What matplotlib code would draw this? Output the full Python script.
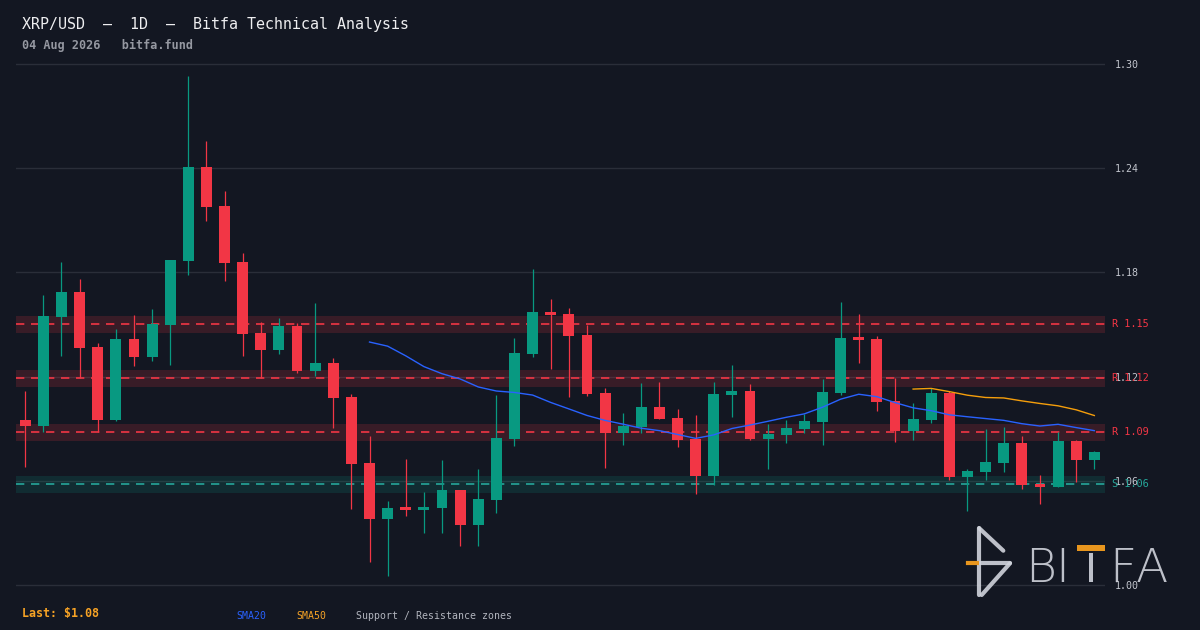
import numpy as np
import pandas as pd
import matplotlib
matplotlib.use("Agg")
from matplotlib import pyplot as plt
from matplotlib.lines import Line2D
from matplotlib.patches import Rectangle

# daily candles
opens = [1.0950, 1.0917, 1.1543, 1.1687, 1.1370, 1.0950, 1.1417, 1.1315, 1.1499, 1.1867,
         1.2407, 1.2182, 1.1860, 1.1451, 1.1355, 1.1491, 1.1234, 1.1278, 1.1083, 1.0703,
         1.0382, 1.0443, 1.0434, 1.0443, 1.0547, 1.0347, 1.0491, 1.0843, 1.1332, 1.1572,
         1.1560, 1.1439, 1.1106, 1.0877, 1.0912, 1.1025, 1.0962, 1.0841, 1.0629, 1.1096,
         1.1117, 1.0843, 1.0866, 1.0900, 1.0941, 1.1107, 1.1422, 1.1416, 1.1060, 1.0889,
         1.0952, 1.1106, 1.0624, 1.0653, 1.0704, 1.0818, 1.0582, 1.0565, 1.0829, 1.0720]
highs = [1.1117, 1.1670, 1.1860, 1.1762, 1.1394, 1.1474, 1.1555, 1.1589, 1.1871, 1.2931,
         1.2557, 1.2269, 1.1912, 1.1514, 1.1537, 1.1509, 1.1624, 1.1307, 1.1100, 1.0858,
         1.0484, 1.0726, 1.0536, 1.0720, 1.0547, 1.0668, 1.1094, 1.1422, 1.1820, 1.1647,
         1.1595, 1.1497, 1.1134, 1.0990, 1.1163, 1.1169, 1.1013, 1.0979, 1.1169, 1.1267,
         1.1157, 1.0927, 1.0950, 1.0985, 1.1185, 1.1630, 1.1560, 1.1433, 1.1192, 1.1048,
         1.1133, 1.1117, 1.0670, 1.0897, 1.0910, 1.0858, 1.0634, 1.0881, 1.0835, 1.0772]
lows = [1.0680, 1.0881, 1.1320, 1.1192, 1.0883, 1.0944, 1.1263, 1.1292, 1.1269, 1.1787,
        1.2098, 1.1752, 1.1320, 1.1192, 1.1332, 1.1222, 1.1205, 1.0906, 1.0439, 1.0134,
        1.0054, 1.0399, 1.0301, 1.0301, 1.0226, 1.0226, 1.0417, 1.0802, 1.1315, 1.1246,
        1.1084, 1.1091, 1.0676, 1.0808, 1.0877, 1.0958, 1.0796, 1.0526, 1.0578, 1.0969,
        1.0837, 1.0670, 1.0815, 1.0877, 1.0808, 1.1096, 1.1280, 1.1004, 1.0825, 1.0837,
        1.0935, 1.0606, 1.0428, 1.0606, 1.0653, 1.0555, 1.0468, 1.0565, 1.0595, 1.0670]
closes = [1.0917, 1.1549, 1.1687, 1.1367, 1.0950, 1.1417, 1.1315, 1.1503, 1.1871, 1.2407,
          1.2178, 1.1856, 1.1447, 1.1355, 1.1491, 1.1234, 1.1278, 1.1079, 1.0698, 1.0382,
          1.0443, 1.0434, 1.0449, 1.0547, 1.0347, 1.0495, 1.0846, 1.1336, 1.1572, 1.1556,
          1.1436, 1.1102, 1.0877, 1.0916, 1.1025, 1.0958, 1.0837, 1.0629, 1.1100, 1.1117,
          1.0843, 1.0870, 1.0904, 1.0944, 1.1111, 1.1422, 1.1413, 1.1056, 1.0889, 1.0956,
          1.1106, 1.0624, 1.0656, 1.0708, 1.0818, 1.0576, 1.0565, 1.0829, 1.0720, 1.0766]

resistance = [1.150, 1.119, 1.088]
support = [1.058]
zone_half = 0.0049
yticks = [1.00, 1.06, 1.12, 1.18, 1.24, 1.30]

BG = '#131722'
UP = '#089981'
DOWN = '#f23645'
GRID = '#2a2e39'
TXT = '#b2b5be'
BLUE = '#2962ff'
ORANGE = '#f7a325'
MONO = 'DejaVu Sans Mono'

df = pd.DataFrame({'o': opens, 'h': highs, 'l': lows, 'c': closes})
df['sma20'] = df['c'].rolling(20).mean()
df['sma50'] = df['c'].rolling(50).mean()
x = np.arange(len(df))

fig = plt.figure(figsize=(12, 6.3), dpi=100, facecolor=BG)
# axes box in pixels: x 16..1105, y 58..590
ax = fig.add_axes([16/1200, 1 - 590/630, (1105-16)/1200, (590-58)/630])
ax.set_facecolor(BG)
pxu = 1736.7
ax.set_ylim(1.00 - 5/pxu, 1.30 + 6/pxu)
ax.set_xlim(-0.51, 59.59)

for s in ax.spines.values():
    s.set_visible(False)
ax.set_xticks([])
ax.set_yticks(yticks)
ax.set_yticklabels(['%.2f' % v for v in yticks], fontfamily=MONO, fontsize=7.2, color='#c3c6ce')
ax.yaxis.tick_right()
ax.tick_params(axis='y', length=0, pad=7)
ax.grid(axis='y', color=GRID, linewidth=1)
ax.set_axisbelow(True)

# S/R zones
for lvl in resistance:
    ax.axhspan(lvl - zone_half, lvl + zone_half, color=DOWN, alpha=0.17, lw=0, zorder=1)
    ax.axhline(lvl, color=DOWN, lw=1.2, ls=(0, (5, 4)), zorder=2)
    ax.text(1.006, lvl, 'R %.2f' % lvl, transform=ax.get_yaxis_transform(), ha='left',
            va='center', fontfamily=MONO, fontsize=7.4, color=DOWN)
for lvl in support:
    ax.axhspan(lvl - zone_half, lvl + zone_half, color=UP, alpha=0.17, lw=0, zorder=1)
    ax.axhline(lvl, color='#26a69a', lw=1.2, ls=(0, (5, 4)), zorder=2)
    ax.text(1.006, lvl, 'S %.2f' % lvl, transform=ax.get_yaxis_transform(), ha='left',
            va='center', fontfamily=MONO, fontsize=7.4, color='#26a69a')

# candles
cols = np.where(df['c'] >= df['o'], UP, DOWN)
ax.vlines(x, df['l'], df['h'], colors=cols, lw=0.9, zorder=3)
body_lo = np.minimum(df['o'], df['c'])
body_h = np.maximum(np.abs(df['c'] - df['o']), 0.0014)
ax.bar(x, body_h, bottom=body_lo, width=0.6, color=cols, lw=0, zorder=4)

ax.plot(x, df['sma20'], color=BLUE, lw=1.0, zorder=5)
ax.plot(x, df['sma50'], color='#f59e0b', lw=1.0, zorder=5)

# header
fig.text(22/1200, 1 - 29/630, 'XRP/USD  –  1D  –  Bitfa Technical Analysis',
         fontfamily=MONO, fontsize=10.8, color='#eeeef0', va='baseline')
fig.text(22/1200, 1 - 49/630, '04 Aug 2026   bitfa.fund', fontfamily=MONO,
         fontsize=8.5, fontweight='bold', color='#9598a1', va='baseline')

# footer
fig.text(22/1200, 1 - 617/630, 'Last: $%.2f' % closes[-1], fontfamily=MONO,
         fontsize=8.4, fontweight='bold', color=ORANGE, va='baseline')
fig.text(236/1200, 1 - 619/630, 'SMA20', fontfamily=MONO, fontsize=7.1, color=BLUE, va='baseline')
fig.text(296/1200, 1 - 619/630, 'SMA50', fontfamily=MONO, fontsize=7.1, color=ORANGE, va='baseline')
fig.text(356/1200, 1 - 619/630, 'Support / Resistance zones', fontfamily=MONO,
         fontsize=7.1, color=TXT, va='baseline')

# watermark logo
def px(xp, yp):
    return xp/1200, 1 - yp/630

LOGO = '#d1d4dc'
for (x0, y0), (x1, y1) in [((979.3, 528.3), (979.3, 595)),
                           ((979.3, 528.3), (1003.3, 550.7)),
                           ((979.3, 563.3), (1010, 563.3)),
                           ((1010, 563.3), (981.7, 595))]:
    a, b = px(x0, y0)
    c, d = px(x1, y1)
    fig.add_artist(Line2D([a, c], [b, d], transform=fig.transFigure, color=LOGO,
                          lw=3.0, solid_capstyle='round', alpha=0.9))
a, b = px(968.3, 563.3)
c, d = px(976.7, 563.3)
fig.add_artist(Line2D([a, c], [b, d], transform=fig.transFigure, color='#e8961e', lw=3.0))

for ch, cx in [('B', 1041), ('I', 1062.5), ('F', 1123), ('A', 1152)]:
    fx, fy = px(cx, 581.7)
    fig.text(fx, fy, ch, fontfamily='DejaVu Sans', fontsize=34, fontweight='light',
             color=LOGO, ha='center', va='baseline', alpha=0.9)
# the T is drawn as an orange bar over a grey stem
fx, fy = px(1076.5, 550.5)
fig.add_artist(Rectangle((fx, fy), 28.5/1200, 5.5/630, transform=fig.transFigure,
                         color='#e8961e', lw=0))
fx, fy = px(1088.5, 581.7)
fig.add_artist(Rectangle((fx, fy), 4.5/1200, 28.5/630, transform=fig.transFigure,
                         color=LOGO, lw=0, alpha=0.9))

fig.savefig('out.png', dpi=100, facecolor=BG)
